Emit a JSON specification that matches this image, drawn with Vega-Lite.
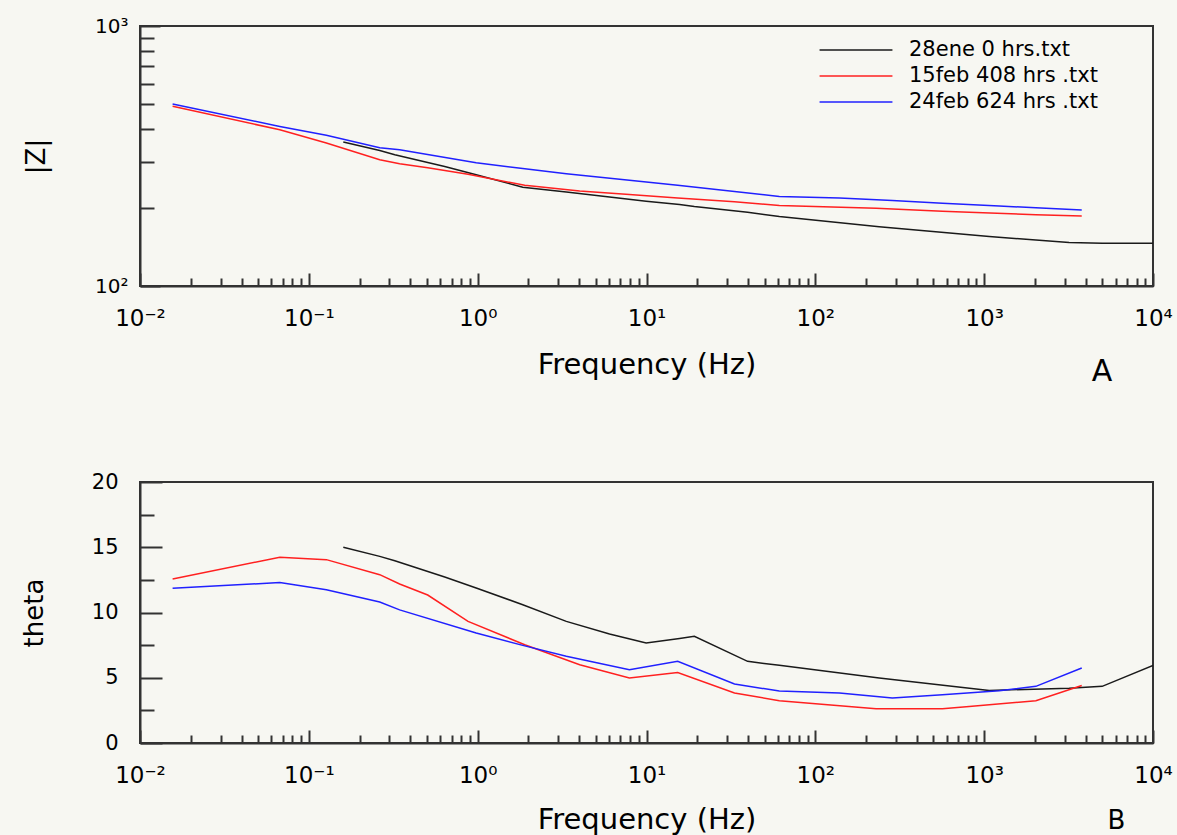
{
  "$schema": "https://vega.github.io/schema/vega-lite/v6.json",
  "background": "#f7f7f2",
  "padding": {"left": 20, "top": 15, "right": 12, "bottom": 0},
  "bounds": "flush",
  "spacing": 196,
  "config": {
    "font": "DejaVu Sans",
    "view": {"stroke": "#333333", "strokeWidth": 2},
    "axis": {
      "grid": false,
      "domainColor": "#333333",
      "domainWidth": 2,
      "tickColor": "#333333",
      "tickWidth": 2,
      "labelColor": "#000000",
      "titleColor": "#000000",
      "titleFontWeight": "normal",
      "labelFont": "DejaVu Sans",
      "titleFont": "DejaVu Sans",
      "labelFontSize": 23,
      "labelFlush": false,
      "labelOverlap": false
    },
    "title": {"font": "DejaVu Sans", "fontWeight": "normal", "color": "#000000"}
  },
  "data": {
    "values": [
      {"s": "28ene 0  hrs.txt", "f": 0.16, "Z": 358, "t": 15.0},
      {"s": "28ene 0  hrs.txt", "f": 0.263, "Z": 332, "t": 14.3},
      {"s": "28ene 0  hrs.txt", "f": 0.323, "Z": 320, "t": 13.97},
      {"s": "28ene 0  hrs.txt", "f": 0.638, "Z": 288, "t": 12.72},
      {"s": "28ene 0  hrs.txt", "f": 0.98, "Z": 268, "t": 11.88},
      {"s": "28ene 0  hrs.txt", "f": 1.85, "Z": 240, "t": 10.6},
      {"s": "28ene 0  hrs.txt", "f": 3.35, "Z": 230, "t": 9.32},
      {"s": "28ene 0  hrs.txt", "f": 6.04, "Z": 220, "t": 8.35},
      {"s": "28ene 0  hrs.txt", "f": 9.95, "Z": 212, "t": 7.66},
      {"s": "28ene 0  hrs.txt", "f": 15.7, "Z": 206, "t": 8.0},
      {"s": "28ene 0  hrs.txt", "f": 19.2, "Z": 202, "t": 8.17},
      {"s": "28ene 0  hrs.txt", "f": 39.7, "Z": 192, "t": 6.26},
      {"s": "28ene 0  hrs.txt", "f": 61.2, "Z": 185, "t": 5.95},
      {"s": "28ene 0  hrs.txt", "f": 239, "Z": 169, "t": 4.98},
      {"s": "28ene 0  hrs.txt", "f": 1072, "Z": 155, "t": 4.03},
      {"s": "28ene 0  hrs.txt", "f": 3185, "Z": 147, "t": 4.2},
      {"s": "28ene 0  hrs.txt", "f": 5000, "Z": 146, "t": 4.34},
      {"s": "28ene 0  hrs.txt", "f": 10000, "Z": 146, "t": 5.95},
      {"s": "15feb 408 hrs .txt", "f": 0.0156, "Z": 491, "t": 12.57},
      {"s": "15feb 408 hrs .txt", "f": 0.0673, "Z": 399, "t": 14.23},
      {"s": "15feb 408 hrs .txt", "f": 0.127, "Z": 355, "t": 14.05},
      {"s": "15feb 408 hrs .txt", "f": 0.263, "Z": 306, "t": 12.9},
      {"s": "15feb 408 hrs .txt", "f": 0.345, "Z": 295, "t": 12.18},
      {"s": "15feb 408 hrs .txt", "f": 0.506, "Z": 285, "t": 11.34},
      {"s": "15feb 408 hrs .txt", "f": 0.877, "Z": 269, "t": 9.32},
      {"s": "15feb 408 hrs .txt", "f": 1.9, "Z": 244, "t": 7.53},
      {"s": "15feb 408 hrs .txt", "f": 4.02, "Z": 232, "t": 6.0},
      {"s": "15feb 408 hrs .txt", "f": 7.92, "Z": 225, "t": 4.98},
      {"s": "15feb 408 hrs .txt", "f": 15.3, "Z": 218, "t": 5.4},
      {"s": "15feb 408 hrs .txt", "f": 33.2, "Z": 211, "t": 3.83},
      {"s": "15feb 408 hrs .txt", "f": 61.2, "Z": 204, "t": 3.24},
      {"s": "15feb 408 hrs .txt", "f": 229, "Z": 199, "t": 2.63},
      {"s": "15feb 408 hrs .txt", "f": 566, "Z": 194, "t": 2.63},
      {"s": "15feb 408 hrs .txt", "f": 815, "Z": 192, "t": 2.8},
      {"s": "15feb 408 hrs .txt", "f": 2024, "Z": 188, "t": 3.24},
      {"s": "15feb 408 hrs .txt", "f": 3784, "Z": 186, "t": 4.4},
      {"s": "24feb 624 hrs .txt", "f": 0.0156, "Z": 501, "t": 11.85},
      {"s": "24feb 624 hrs .txt", "f": 0.0673, "Z": 411, "t": 12.3},
      {"s": "24feb 624 hrs .txt", "f": 0.127, "Z": 380, "t": 11.75},
      {"s": "24feb 624 hrs .txt", "f": 0.263, "Z": 340, "t": 10.8},
      {"s": "24feb 624 hrs .txt", "f": 0.345, "Z": 334, "t": 10.2},
      {"s": "24feb 624 hrs .txt", "f": 0.98, "Z": 298, "t": 8.43},
      {"s": "24feb 624 hrs .txt", "f": 1.85, "Z": 283, "t": 7.48},
      {"s": "24feb 624 hrs .txt", "f": 3.35, "Z": 270, "t": 6.64},
      {"s": "24feb 624 hrs .txt", "f": 7.92, "Z": 255, "t": 5.62},
      {"s": "24feb 624 hrs .txt", "f": 15.3, "Z": 244, "t": 6.26},
      {"s": "24feb 624 hrs .txt", "f": 33.2, "Z": 231, "t": 4.52},
      {"s": "24feb 624 hrs .txt", "f": 61.2, "Z": 221, "t": 3.98},
      {"s": "24feb 624 hrs .txt", "f": 139, "Z": 218, "t": 3.83},
      {"s": "24feb 624 hrs .txt", "f": 286, "Z": 213, "t": 3.45},
      {"s": "24feb 624 hrs .txt", "f": 566, "Z": 208, "t": 3.7},
      {"s": "24feb 624 hrs .txt", "f": 1228, "Z": 203, "t": 4.0},
      {"s": "24feb 624 hrs .txt", "f": 2024, "Z": 200, "t": 4.34},
      {"s": "24feb 624 hrs .txt", "f": 3784, "Z": 196, "t": 5.75}
    ]
  },
  "resolve": {"scale": {"color": "independent"}, "legend": {"color": "independent"}},
  "vconcat": [
    {
      "width": 1013,
      "height": 260,
      "title": {"text": "A", "orient": "bottom", "anchor": "end", "fontSize": 30, "dx": -60, "dy": 0, "offset": -22},
      "mark": {"type": "line", "strokeWidth": 1.5, "clip": true},
      "encoding": {
        "x": {
          "field": "f", "type": "quantitative",
          "scale": {"type": "log", "domain": [0.01, 10000], "nice": false},
          "axis": {
            "title": "Frequency (Hz)",
            "titleFontSize": 29,
            "titlePadding": 15,
            "values": [0.01,0.02,0.03,0.04,0.05,0.06,0.07,0.08,0.09,0.1,0.2,0.3,0.4,0.5,0.6,0.7,0.8,0.9,1,2,3,4,5,6,7,8,9,10,20,30,40,50,60,70,80,90,100,200,300,400,500,600,700,800,900,1000,2000,3000,4000,5000,6000,7000,8000,9000,10000],
            "labelExpr": "abs(log(datum.value)/LN10 - round(log(datum.value)/LN10)) < 0.001 ? '10' + ['⁻²','⁻¹','⁰','¹','²','³','⁴'][round(log(datum.value)/LN10) + 2] : ''",
            "tickSize": {"condition": {"test": "abs(log(datum.value)/LN10 - round(log(datum.value)/LN10)) < 0.001", "value": -13}, "value": -8},
            "labelPadding": 34
          }
        },
        "y": {
          "field": "Z", "type": "quantitative",
          "scale": {"type": "log", "domain": [100, 1000], "nice": false},
          "axis": {
            "title": "|Z|",
            "titleFontSize": 26,
            "titlePadding": 45,
            "values": [100,200,300,400,500,600,700,800,900,1000],
            "labelExpr": "datum.value == 100 ? '10²' : (datum.value == 1000 ? '10³' : '')",
            "tickSize": {"condition": {"test": "datum.value == 100 || datum.value == 1000", "value": -20}, "value": -14},
            "labelPadding": 32,
            "labelFontSize": 20,
            "labelBaseline": "middle"
          }
        },
        "color": {
          "field": "s", "type": "nominal",
          "scale": {"domain": ["28ene 0  hrs.txt", "15feb 408 hrs .txt", "24feb 624 hrs .txt"], "range": ["#1a1a1a", "#ff2020", "#2020ff"]},
          "legend": {
            "title": null,
            "orient": "none",
            "legendX": 703,
            "legendY": 11,
            "symbolType": "M-3,0H3",
            "symbolSize": 590,
            "symbolStrokeWidth": 1.5,
            "labelFontSize": 21,
            "labelFont": "DejaVu Sans",
            "labelColor": "#000000",
            "labelLimit": 400,
            "labelOffset": 40,
            "rowPadding": 3,
            "padding": 0
          }
        }
      }
    },
    {
      "width": 1013,
      "height": 261,
      "title": {"text": "B", "orient": "bottom", "anchor": "end", "fontSize": 26, "dx": -47, "dy": -6, "offset": -20},
      "mark": {"type": "line", "strokeWidth": 1.5, "clip": true},
      "encoding": {
        "x": {
          "field": "f", "type": "quantitative",
          "scale": {"type": "log", "domain": [0.01, 10000], "nice": false},
          "axis": {
            "title": "Frequency (Hz)",
            "titleFontSize": 29,
            "titlePadding": 13,
            "values": [0.01,0.02,0.03,0.04,0.05,0.06,0.07,0.08,0.09,0.1,0.2,0.3,0.4,0.5,0.6,0.7,0.8,0.9,1,2,3,4,5,6,7,8,9,10,20,30,40,50,60,70,80,90,100,200,300,400,500,600,700,800,900,1000,2000,3000,4000,5000,6000,7000,8000,9000,10000],
            "labelExpr": "abs(log(datum.value)/LN10 - round(log(datum.value)/LN10)) < 0.001 ? '10' + ['⁻²','⁻¹','⁰','¹','²','³','⁴'][round(log(datum.value)/LN10) + 2] : ''",
            "tickSize": {"condition": {"test": "abs(log(datum.value)/LN10 - round(log(datum.value)/LN10)) < 0.001", "value": -13}, "value": -8},
            "labelPadding": 34
          }
        },
        "y": {
          "field": "t", "type": "quantitative",
          "scale": {"domain": [0, 20], "nice": false},
          "axis": {
            "title": "theta",
            "titleFontSize": 26,
            "titlePadding": 44,
            "values": [0,2.5,5,7.5,10,12.5,15,17.5,20],
            "labelExpr": "datum.value % 5 == 0 ? '' + datum.value : ''",
            "tickSize": {"condition": {"test": "datum.value % 5 == 0", "value": -22}, "value": -14},
            "labelPadding": 44,
            "labelFontSize": 21,
            "labelBaseline": "middle"
          }
        },
        "color": {
          "field": "s", "type": "nominal",
          "scale": {"domain": ["28ene 0  hrs.txt", "15feb 408 hrs .txt", "24feb 624 hrs .txt"], "range": ["#1a1a1a", "#ff2020", "#2020ff"]},
          "legend": null
        }
      }
    }
  ]
}
